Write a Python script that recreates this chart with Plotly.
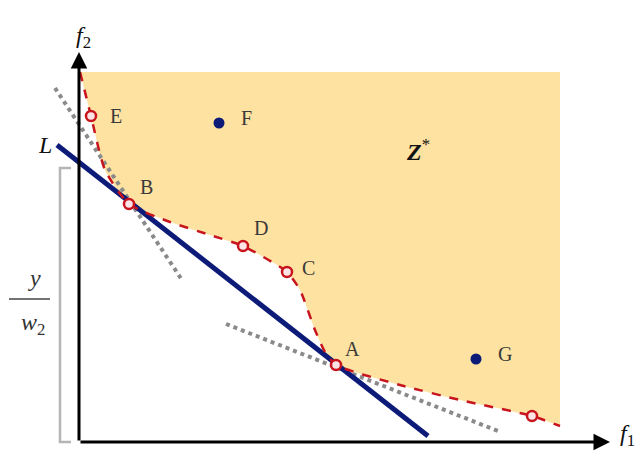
import plotly.graph_objects as go

# Coordinates measured from the axis origin (f1 to the right, f2 upwards)
# Pareto front points (red dashed curve), from the top of f2 down to the right end
front_f1 = [1, 12, 26, 50, 91, 131, 164, 208, 221, 236, 246, 257, 321, 381, 453, 481]
front_f2 = [370, 326, 272, 238, 220, 207, 196, 170, 152, 112, 90, 77, 57, 42, 26, 16]

# Marked points on the front (open markers)
mark_names = ["E", "B", "D", "C", "A", ""]
mark_f1 = [12, 50, 164, 208, 257, 453]
mark_f2 = [326, 238, 196, 170, 77, 26]

# Dominated points (filled dots)
dot_names = ["F", "G"]
dot_f1 = [140, 397]
dot_f2 = [319, 83]

# Supporting line L and the two tangent lines
L_f1 = [-22, 349]
L_f2 = [297, 6]
tanB_f1 = [-24, 103]
tanB_f2 = [354, 162]
tanA_f1 = [147, 419]
tanA_f2 = [118, 11]

# Extent of the attainable region Z*
z_right = 481
z_top = 370

X0, Y0 = 79, 442  # page position of the origin
W, H = 643, 455

fig = go.Figure()

# Shaded region above the front
fig.add_trace(go.Scatter(x=front_f1, y=front_f2, mode="lines",
                         line=dict(color="rgba(0,0,0,0)", shape="spline", smoothing=0.6),
                         hoverinfo="skip", showlegend=False))
fig.add_trace(go.Scatter(x=[front_f1[0], z_right, z_right], y=[z_top, z_top, front_f2[-1]],
                         mode="lines", fill="tonexty", fillcolor="#fde2a1",
                         line=dict(color="rgba(0,0,0,0)"), hoverinfo="skip", showlegend=False))

# Tangent lines (gray dotted)
for xs, ys in [(tanB_f1, tanB_f2), (tanA_f1, tanA_f2)]:
    fig.add_trace(go.Scatter(x=xs, y=ys, mode="lines",
                             line=dict(color="#8a8a8a", width=4, dash="dot"),
                             showlegend=False))

# Line L
fig.add_trace(go.Scatter(x=L_f1, y=L_f2, mode="lines",
                         line=dict(color="#0c1a78", width=5), showlegend=False))

# Pareto front
fig.add_trace(go.Scatter(x=front_f1, y=front_f2, mode="lines",
                         line=dict(color="#c8141c", width=2.5, dash="dash",
                                   shape="spline", smoothing=0.6),
                         showlegend=False))

# Marked front points
fig.add_trace(go.Scatter(x=mark_f1, y=mark_f2, mode="markers",
                         marker=dict(symbol="circle", size=10, color="#fbe3e6",
                                     line=dict(color="#c8141c", width=2.5)),
                         showlegend=False))

# Dominated points
fig.add_trace(go.Scatter(x=dot_f1, y=dot_f2, mode="markers",
                         marker=dict(symbol="circle", size=11, color="#0c1a78"),
                         showlegend=False))

annotations = []
serif = "Liberation Serif"
label_offsets = {"E": (25, 0), "B": (17, 17), "D": (18, 18), "C": (21, 4),
                 "A": (16, 16), "F": (27, 5), "G": (29, 5)}
for n, x, y in list(zip(mark_names, mark_f1, mark_f2)) + list(zip(dot_names, dot_f1, dot_f2)):
    if not n:
        continue
    dx, dy = label_offsets[n]
    annotations.append(dict(x=x + dx, y=y + dy, text=n, showarrow=False,
                            font=dict(family=serif, size=20, color="#3a3a3a")))

# Region and line names
annotations.append(dict(x=339, y=292, text="<b><i>Z</i></b><sup>*</sup>", showarrow=False,
                        font=dict(family=serif, size=24, color="#111")))
annotations.append(dict(x=-34, y=297, text="<i>L</i>", showarrow=False,
                        font=dict(family=serif, size=24, color="#111")))

# Axis names
annotations.append(dict(x=4, y=405, text="<i>f</i><sub>2</sub>", showarrow=False,
                        font=dict(family=serif, size=24, color="#111")))
annotations.append(dict(x=548, y=7, text="<i>f</i><sub>1</sub>", showarrow=False,
                        font=dict(family=serif, size=24, color="#111")))

# Fraction y / w2
annotations.append(dict(x=-45, y=164, text="<i>y</i>", showarrow=False,
                        font=dict(family=serif, size=24, color="#333")))
annotations.append(dict(x=-46, y=118, text="<i>w</i><sub>2</sub>", showarrow=False,
                        font=dict(family=serif, size=24, color="#333")))

# Axes with arrowheads
annotations.append(dict(x=0, y=390, ax=0, ay=0, xref="x", yref="y", axref="x", ayref="y",
                        showarrow=True, arrowhead=2, arrowsize=1.1, arrowwidth=3,
                        arrowcolor="black", text=""))
annotations.append(dict(x=531, y=0, ax=0, ay=0, xref="x", yref="y", axref="x", ayref="y",
                        showarrow=True, arrowhead=2, arrowsize=1.1, arrowwidth=3,
                        arrowcolor="black", text=""))

shapes = [
    # fraction bar
    dict(type="line", x0=-70, x1=-29, y0=143, y1=143, line=dict(color="#444", width=1.5)),
    # bracket for y / w2
    dict(type="path", path="M -8,274 L -19,274 L -19,0 L -8,0",
         line=dict(color="#b5b5b5", width=2.5)),
]

fig.update_layout(
    width=W, height=H,
    margin=dict(l=0, r=0, t=0, b=0),
    paper_bgcolor="white", plot_bgcolor="white",
    xaxis=dict(range=[-X0, W - X0], visible=False, fixedrange=True),
    yaxis=dict(range=[Y0 - H, Y0], visible=False, fixedrange=True),
    annotations=annotations,
    shapes=shapes,
    showlegend=False,
)

fig.write_html("out.html")
